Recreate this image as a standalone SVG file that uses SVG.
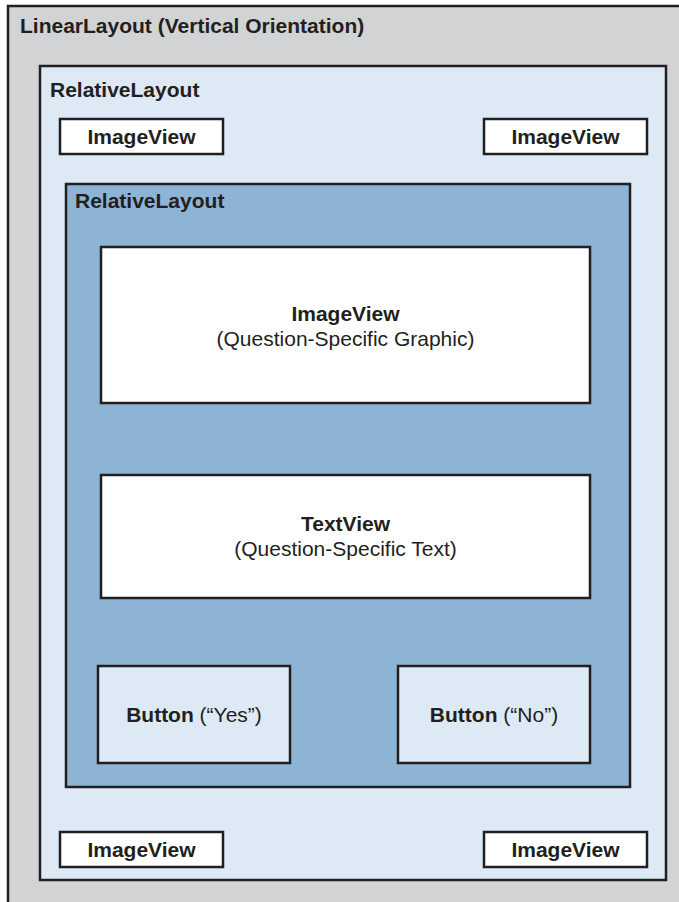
<svg xmlns="http://www.w3.org/2000/svg" width="679" height="902" viewBox="0 0 679 902">
<style>
.box{stroke:#231f20;stroke-width:2.5}
.t{font-family:"Liberation Sans",Arial,Helvetica,sans-serif;fill:#231f20;font-size:21px}
.b{font-weight:bold}
</style>
<rect width="679" height="902" fill="#ffffff"/>
<g id="linearLayout">
<rect class="box" x="8" y="6" width="690" height="920" fill="#d1d3d4"/>
<text class="t b" x="20" y="33">LinearLayout (Vertical Orientation)</text>
</g>
<g id="relativeLayoutOuter">
<rect class="box" x="40" y="66" width="626" height="814" fill="#dde9f5"/>
<text class="t b" x="50" y="97">RelativeLayout</text>
</g>
<g id="imageViewTopLeft">
<rect class="box" x="60" y="119" width="163" height="35" fill="#ffffff"/>
<text class="t b" x="141.5" y="144" text-anchor="middle">ImageView</text>
</g>
<g id="imageViewTopRight">
<rect class="box" x="484" y="119" width="163" height="35" fill="#ffffff"/>
<text class="t b" x="565.5" y="144" text-anchor="middle">ImageView</text>
</g>
<g id="relativeLayoutInner">
<rect class="box" x="66" y="184" width="564" height="603" fill="#8db3d5"/>
<text class="t b" x="75" y="208">RelativeLayout</text>
</g>
<g id="imageViewGraphic">
<rect class="box" x="101" y="247" width="489" height="156" fill="#ffffff"/>
<text class="t b" x="345.5" y="321" text-anchor="middle">ImageView</text>
<text class="t" x="345.5" y="346" text-anchor="middle">(Question-Specific Graphic)</text>
</g>
<g id="textView">
<rect class="box" x="101" y="475" width="489" height="123" fill="#ffffff"/>
<text class="t b" x="345.5" y="531" text-anchor="middle">TextView</text>
<text class="t" x="345.5" y="556" text-anchor="middle">(Question-Specific Text)</text>
</g>
<g id="buttonYes">
<rect class="box" x="98" y="666" width="192" height="97" fill="#dde9f5"/>
<text class="t" x="194" y="722" text-anchor="middle"><tspan class="b">Button</tspan> (“Yes”)</text>
</g>
<g id="buttonNo">
<rect class="box" x="398" y="666" width="192" height="97" fill="#dde9f5"/>
<text class="t" x="494" y="722" text-anchor="middle"><tspan class="b">Button</tspan> (“No”)</text>
</g>
<g id="imageViewBottomLeft">
<rect class="box" x="60" y="832" width="163" height="35" fill="#ffffff"/>
<text class="t b" x="141.5" y="857" text-anchor="middle">ImageView</text>
</g>
<g id="imageViewBottomRight">
<rect class="box" x="484" y="832" width="163" height="35" fill="#ffffff"/>
<text class="t b" x="565.5" y="857" text-anchor="middle">ImageView</text>
</g>
<g id="connectors"/>
</svg>
